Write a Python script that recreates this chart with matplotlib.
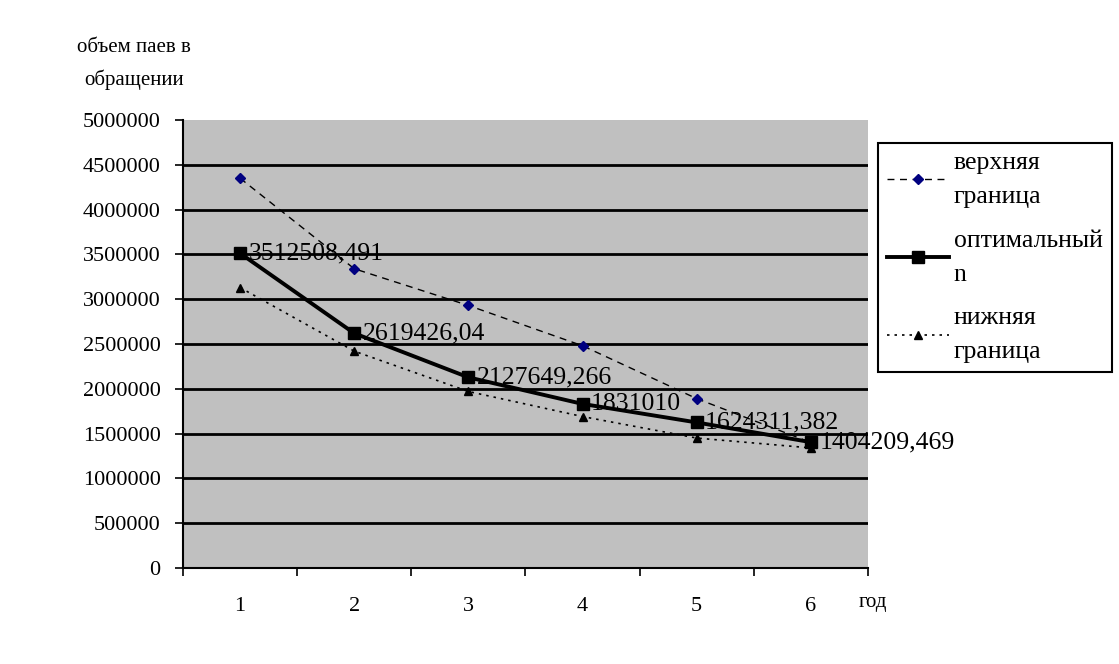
import matplotlib.pyplot as plt
import numpy as np
from matplotlib.ticker import FixedLocator, FuncFormatter

plt.rcParams['font.family'] = ['Liberation Serif', 'DejaVu Serif']

years = [1, 2, 3, 4, 5, 6]
upper = [4350000, 3340000, 2930000, 2480000, 1890000, 1400000]
optimal = [3512508.491, 2619426.04, 2127649.266, 1831010, 1624311.382, 1404209.469]
lower = [3130000, 2420000, 1970000, 1690000, 1450000, 1340000]
opt_labels = ["3512508,491", "2619426,04", "2127649,266", "1831010", "1624311,382", "1404209,469"]

fig = plt.figure(figsize=(11.19, 6.64), dpi=100)
ax = fig.add_axes([0.1635, 0.1446, 0.6122, 0.6747])
ax.set_facecolor('#c0c0c0')

ax.plot(years, upper, color='black', linestyle=(0, (5, 4)), linewidth=1,
        marker='D', markersize=5, markerfacecolor='#000080', markeredgecolor='#000080',
        label='верхняя\nграница', zorder=3)
ax.plot(years, optimal, color='black', linestyle='-', linewidth=2.8,
        marker='s', markersize=9, label='оптимальный\nn', zorder=4)
ax.plot(years, lower, color='black', linestyle=(0, (1.5, 3)), linewidth=1.2,
        marker='^', markersize=6, label='нижняя\nграница', zorder=3)

for x, y, t in zip(years, optimal, opt_labels):
    ax.annotate(t, (x, y), xytext=(6, 0), textcoords='offset points',
                ha='left', va='center', fontsize=18.5, zorder=5, annotation_clip=False)

ax.set_xlim(0.5, 6.5)
ax.set_ylim(0, 5000000)
ax.yaxis.set_major_locator(FixedLocator(np.arange(0, 5000001, 500000)))
ax.yaxis.set_major_formatter(FuncFormatter(lambda v, p: f"{int(v)}"))
ax.grid(axis='y', color='black', linewidth=2)
ax.get_ygridlines()[-1].set_visible(False)
ax.get_ygridlines()[0].set_visible(False)
ax.set_axisbelow(True)

ax.set_xticks(years)
ax.set_xticklabels([str(y) for y in years])
ax.xaxis.set_minor_locator(FixedLocator(np.arange(0.5, 6.6, 1)))
ax.tick_params(axis='x', which='major', length=0, pad=21, labelsize=16)
ax.tick_params(axis='x', which='minor', length=6, width=1.2, direction='out')
ax.tick_params(axis='y', length=6, width=1.2, direction='out', labelsize=16, pad=10)

for s in ['top', 'right']:
    ax.spines[s].set_visible(False)
for s in ['left', 'bottom']:
    ax.spines[s].set_color('black')
    ax.spines[s].set_linewidth(1.5)

fig.text(0.12, 0.928, 'объем паев в', ha='center', va='center', fontsize=15)
fig.text(0.12, 0.880, 'обращении', ha='center', va='center', fontsize=15)
fig.text(0.780, 0.093, 'год', ha='center', va='center', fontsize=15)

leg = ax.legend(loc='upper left', bbox_to_anchor=(878 / 1119, 1 - 143 / 664),
                bbox_transform=fig.transFigure, borderaxespad=0, fontsize=18.5,
                frameon=True, fancybox=False, edgecolor='black', framealpha=1,
                handlelength=2.4, labelspacing=0.85, borderpad=0.35, handletextpad=0.2)
for t in leg.get_texts():
    t.set_linespacing(1.7)
leg.get_frame().set_linewidth(1.5)

fig.savefig('out.png', dpi=100, facecolor='white')
